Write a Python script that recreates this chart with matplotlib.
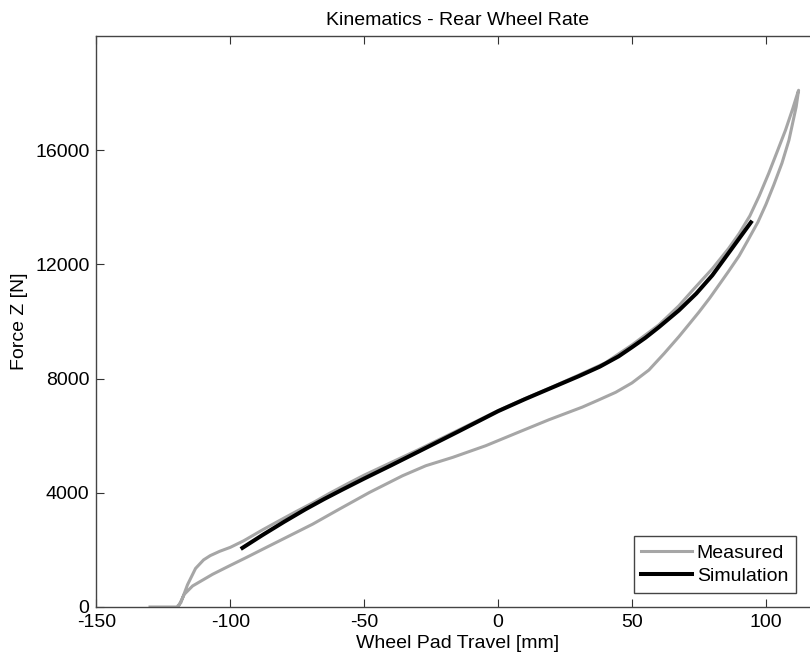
import numpy as np
import matplotlib
matplotlib.use("Agg")
import matplotlib.pyplot as plt

plt.rcParams['font.family'] = ['Liberation Sans', 'DejaVu Sans']
plt.rcParams['axes.unicode_minus'] = False

# Measured loop: upper branch up to the peak, then lower branch back down
meas_up_x = [-130, -120, -118.5, -116, -113, -110, -107.5, -104, -100, -95, -88, -82,
             -75.5, -69, -63, -56, -50, -40, -30, -20, -10, 0, 10, 20, 30, 40, 50, 60,
             67.5, 72.5, 80, 86, 90, 94, 97.5, 101, 104, 107.3, 110, 111.5, 112.2]
meas_up_y = [0, 0, 150, 780, 1350, 1650, 1800, 1950, 2090, 2320, 2700, 3010,
             3340, 3660, 3980, 4330, 4620, 5060, 5500, 5960, 6420, 6880, 7300, 7700, 8120, 8550, 9180, 9880,
             10550, 11080, 11850, 12550, 13080, 13700, 14400, 15180, 15900, 16700, 17450, 17900, 18100]
meas_dn_x = [111.3, 108.6, 106, 103, 100, 97, 93, 90, 86, 83, 79, 75, 71, 67.5, 62, 56.3,
             50, 43.9, 37, 31.4, 19.0, 7.8, -4.6, -17, -27, -35.7, -48.1, -59.3, -63.1,
             -69.3, -75.5, -81.7, -87.9, -94.1, -100.4, -106.6, -114.1, -117.2, -119, -119.5]
meas_dn_y = [17521, 16352, 15550, 14800, 14100, 13480, 12800, 12300, 11750, 11350, 10820,
             10330, 9870, 9470, 8880, 8300, 7850, 7520, 7230, 7000, 6560, 6130, 5650, 5240,
             4948, 4597, 4010, 3428, 3228, 2900, 2608, 2316, 2024, 1730, 1439, 1147, 737, 445, 95, 0]

sim_x = [-95.5, -88, -80, -72, -65, -58, -50, -40, -30, -15, 0, 10, 20, 30, 38, 45, 50, 55, 60,
         67.5, 74, 80, 87, 94.4]
sim_y = [2070, 2520, 2980, 3420, 3780, 4120, 4500, 4960, 5430, 6140, 6860, 7280, 7680, 8080,
         8420, 8780, 9100, 9430, 9800, 10390, 10980, 11620, 12520, 13474]

x_ticks = [-150, -100, -50, 0, 50, 100]
y_ticks = [0, 4000, 8000, 12000, 16000]

fig = plt.figure(figsize=(8.1, 6.62), dpi=100)
ax = fig.add_axes([0.1191, 0.0831, 0.8926, 0.8625])

ax.plot(meas_up_x + meas_dn_x, meas_up_y + meas_dn_y, color='#a6a6a6', lw=2.2, label='Measured')
ax.plot(sim_x, sim_y, color='black', lw=2.9, label='Simulation')

ax.set_xlim(-150, 120)
ax.set_ylim(0, 20000)
ax.set_xticks(x_ticks)
ax.set_yticks(y_ticks)
ax.tick_params(direction='in', top=True, right=True, length=6, width=0.8,
               labelsize=14, pad=5, color='#333333')
for s in ax.spines.values():
    s.set_color('#444444')
    s.set_linewidth(1.0)

ax.set_xlabel('Wheel Pad Travel [mm]', fontsize=14, labelpad=3)
ax.set_ylabel('Force Z [N]', fontsize=14, labelpad=5)
ax.set_title('Kinematics - Rear Wheel Rate', fontsize=14, pad=8)

leg = ax.legend(loc='lower right', bbox_to_anchor=(796 / 810, (662 - 593) / 662),
                bbox_transform=fig.transFigure, borderaxespad=0, fontsize=14,
                fancybox=False, framealpha=1, edgecolor='#444444',
                handlelength=2.6, handletextpad=0.25, labelspacing=0.3, borderpad=0.4)
leg.get_frame().set_linewidth(1.0)

fig.savefig('out.png', dpi=100)
